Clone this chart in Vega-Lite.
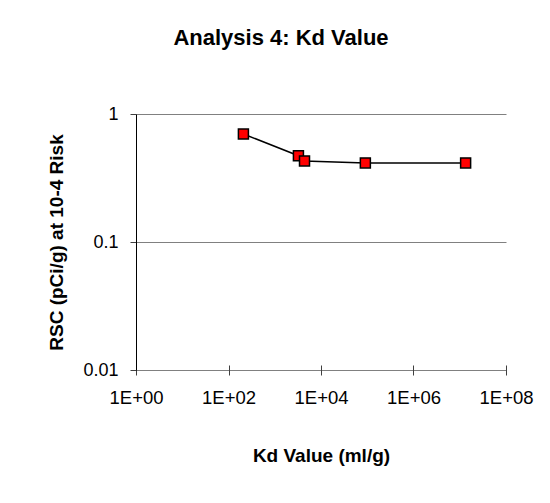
{
  "$schema": "https://vega.github.io/schema/vega-lite/v6.json",
  "autosize": "none",
  "padding": {"left": 136, "top": 114, "right": 44, "bottom": 133},
  "width": 370,
  "height": 256,
  "background": "white",
  "config": {
    "font": "Liberation Sans",
    "view": {"stroke": null}
  },
  "title": {
    "text": "Analysis 4: Kd Value",
    "fontSize": 22,
    "fontWeight": "bold",
    "font": "Liberation Sans",
    "color": "black",
    "anchor": "middle",
    "frame": "group",
    "baseline": "alphabetic",
    "offset": 38,
    "dx": -40
  },
  "data": {
    "values": [
      {"kd": 210, "rsc": 0.698},
      {"kd": 3250, "rsc": 0.472},
      {"kd": 4400, "rsc": 0.43},
      {"kd": 91000, "rsc": 0.415},
      {"kd": 13400000, "rsc": 0.415}
    ]
  },
  "encoding": {
    "x": {
      "field": "kd",
      "type": "quantitative",
      "scale": {"type": "log", "domain": [1, 100000000], "nice": false},
      "axis": {
        "title": "Kd Value (ml/g)",
        "titleFontSize": 19,
        "titleFontWeight": "bold",
        "titleColor": "black",
        "titlePadding": 40,
        "values": [1, 100, 10000, 1000000, 100000000],
        "labelExpr": "'1E+' + (round(log(datum.value)/LN10) < 10 ? '0' : '') + round(log(datum.value)/LN10)",
        "labelFontSize": 18.5,
        "labelColor": "black",
        "labelPadding": 13,
        "labelFlush": false,
        "labelOverlap": false,
        "grid": false,
        "domain": false,
        "offset": -5,
        "tickSize": 10,
        "tickColor": "#404040",
        "tickWidth": 1
      }
    },
    "y": {
      "field": "rsc",
      "type": "quantitative",
      "scale": {"type": "log", "domain": [0.01, 1], "nice": false},
      "axis": {
        "title": "RSC (pCi/g) at 10-4 Risk",
        "titleFontSize": 19,
        "titleFontWeight": "bold",
        "titleColor": "black",
        "titlePadding": 16,
        "values": [0.01, 0.1, 1],
        "format": "~g",
        "labelFontSize": 18,
        "labelColor": "black",
        "labelPadding": 12,
        "labelFlush": false,
        "grid": true,
        "gridColor": "#808080",
        "gridOpacity": 1,
        "gridWidth": 1,
        "domain": true,
        "domainColor": "black",
        "domainWidth": 1,
        "tickSize": 6,
        "tickColor": "#404040"
      }
    }
  },
  "layer": [
    {"mark": {"type": "line", "color": "black", "strokeWidth": 1.5}},
    {"mark": {"type": "point", "shape": "square", "filled": true, "fill": "#FF0000", "stroke": "black", "strokeWidth": 1.5, "size": 100, "opacity": 1}}
  ]
}
